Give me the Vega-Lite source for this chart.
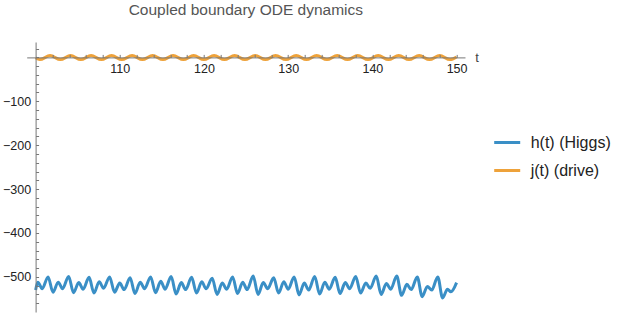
{
  "$schema": "https://vega.github.io/schema/vega-lite/v6.json",
  "autosize": {"type": "none"},
  "padding": {"left": 26.7, "top": 42, "right": 158, "bottom": 2},
  "width": 438.3,
  "height": 270,
  "background": "white",
  "config": {
    "view": {"stroke": null},
    "font": "Liberation Sans"
  },
  "title": {
    "text": "Coupled boundary ODE dynamics",
    "fontSize": 15.5,
    "fontWeight": "normal",
    "color": "#555555",
    "font": "Liberation Sans",
    "anchor": "middle",
    "baseline": "alphabetic",
    "offset": 12
  },
  "datasets": {
    "h": [
      {"t": 100.00, "v": -530}, {"t": 100.26, "v": -512}, {"t": 100.78, "v": -527},
      {"t": 101.48, "v": -500}, {"t": 102.06, "v": -535}, {"t": 102.68, "v": -512}, {"t": 103.20, "v": -527},
      {"t": 103.92, "v": -499}, {"t": 104.50, "v": -536}, {"t": 105.12, "v": -513}, {"t": 105.64, "v": -528},
      {"t": 106.35, "v": -501}, {"t": 106.93, "v": -537}, {"t": 107.55, "v": -511}, {"t": 108.07, "v": -526},
      {"t": 108.79, "v": -500}, {"t": 109.37, "v": -535}, {"t": 109.99, "v": -514}, {"t": 110.51, "v": -529},
      {"t": 111.22, "v": -502}, {"t": 111.80, "v": -538}, {"t": 112.42, "v": -512}, {"t": 112.94, "v": -527},
      {"t": 113.66, "v": -500}, {"t": 114.24, "v": -536}, {"t": 114.86, "v": -510}, {"t": 115.38, "v": -528},
      {"t": 116.10, "v": -499}, {"t": 116.68, "v": -539}, {"t": 117.30, "v": -513}, {"t": 117.82, "v": -529},
      {"t": 118.53, "v": -501}, {"t": 119.11, "v": -537}, {"t": 119.73, "v": -511}, {"t": 120.25, "v": -527},
      {"t": 120.97, "v": -503}, {"t": 121.55, "v": -540}, {"t": 122.17, "v": -514}, {"t": 122.69, "v": -528},
      {"t": 123.40, "v": -500}, {"t": 123.98, "v": -538}, {"t": 124.60, "v": -512}, {"t": 125.12, "v": -529},
      {"t": 125.84, "v": -498}, {"t": 126.42, "v": -540}, {"t": 127.04, "v": -513}, {"t": 127.56, "v": -527},
      {"t": 128.28, "v": -502}, {"t": 128.86, "v": -537}, {"t": 129.48, "v": -511}, {"t": 130.00, "v": -528},
      {"t": 130.71, "v": -500}, {"t": 131.29, "v": -541}, {"t": 131.91, "v": -514}, {"t": 132.43, "v": -530},
      {"t": 133.15, "v": -499}, {"t": 133.73, "v": -539}, {"t": 134.35, "v": -512}, {"t": 134.87, "v": -528},
      {"t": 135.58, "v": -501}, {"t": 136.16, "v": -538}, {"t": 136.78, "v": -513}, {"t": 137.30, "v": -527},
      {"t": 138.02, "v": -499}, {"t": 138.60, "v": -537}, {"t": 139.22, "v": -514}, {"t": 139.74, "v": -526},
      {"t": 140.46, "v": -498}, {"t": 141.04, "v": -540}, {"t": 141.66, "v": -515}, {"t": 142.18, "v": -528},
      {"t": 142.89, "v": -498}, {"t": 143.47, "v": -542}, {"t": 144.09, "v": -517}, {"t": 144.61, "v": -529},
      {"t": 145.33, "v": -500}, {"t": 145.91, "v": -545}, {"t": 146.53, "v": -522}, {"t": 147.05, "v": -530},
      {"t": 147.76, "v": -500}, {"t": 148.34, "v": -548}, {"t": 148.92, "v": -528}, {"t": 149.32, "v": -534},
      {"t": 150.00, "v": -513}
    ],
    "j": [
      {"t": 100.00, "v": -1},
      {"t": 100.50, "v": -5}, {"t": 101.72, "v": 4},
      {"t": 102.94, "v": -5}, {"t": 104.15, "v": 4},
      {"t": 105.37, "v": -5}, {"t": 106.59, "v": 4},
      {"t": 107.81, "v": -5}, {"t": 109.02, "v": 4},
      {"t": 110.24, "v": -5}, {"t": 111.46, "v": 4},
      {"t": 112.68, "v": -5}, {"t": 113.90, "v": 4},
      {"t": 115.12, "v": -5}, {"t": 116.33, "v": 4},
      {"t": 117.55, "v": -5}, {"t": 118.77, "v": 4},
      {"t": 119.99, "v": -5}, {"t": 121.20, "v": 4},
      {"t": 122.42, "v": -5}, {"t": 123.64, "v": 4},
      {"t": 124.86, "v": -5}, {"t": 126.08, "v": 4},
      {"t": 127.30, "v": -5}, {"t": 128.51, "v": 4},
      {"t": 129.73, "v": -5}, {"t": 130.95, "v": 4},
      {"t": 132.17, "v": -5}, {"t": 133.38, "v": 4},
      {"t": 134.60, "v": -5}, {"t": 135.82, "v": 4},
      {"t": 137.04, "v": -5}, {"t": 138.26, "v": 4},
      {"t": 139.48, "v": -5}, {"t": 140.69, "v": 4},
      {"t": 141.91, "v": -5}, {"t": 143.13, "v": 4},
      {"t": 144.35, "v": -5}, {"t": 145.56, "v": 4},
      {"t": 146.78, "v": -5}, {"t": 148.00, "v": 4},
      {"t": 149.22, "v": -5}, {"t": 150.00, "v": 1}
    ]
  },
  "encoding": {
    "x": {
      "field": "t", "type": "quantitative",
      "scale": {"domain": [98.94, 151], "nice": false, "zero": false},
      "axis": {
        "orient": "bottom",
        "offset": -254.6,
        "values": [102,104,106,108,110,112,114,116,118,120,122,124,126,128,130,132,134,136,138,140,142,144,146,148,150],
        "labelExpr": "datum.value % 10 === 0 ? datum.label : ''",
        "labelOverlap": false,
        "labelFlush": false,
        "tickSize": -3,
        "labelPadding": 8,
        "labelFontSize": 12.5,
        "labelFont": "Liberation Sans",
        "labelColor": "#222222",
        "domainColor": "#777777",
        "tickColor": "#777777",
        "grid": false,
        "zindex": 1,
        "title": "t",
        "titleX": 448,
        "titleY": 0,
        "titleAlign": "left",
        "titleBaseline": "middle",
        "titleAngle": 0,
        "titleFontSize": 13,
        "titleFontWeight": "normal",
        "titleFont": "Liberation Sans",
        "titleColor": "#444444"
      }
    },
    "y": {
      "field": "v", "type": "quantitative",
      "scale": {"domain": [-580, 35], "nice": false, "zero": false},
      "axis": {
        "orient": "left",
        "offset": -8.9,
        "values": [-560,-540,-520,-500,-480,-460,-440,-420,-400,-380,-360,-340,-320,-300,-280,-260,-240,-220,-200,-180,-160,-140,-120,-100,-80,-60,-40,-20,0,20],
        "labelExpr": "datum.value % 100 === 0 && datum.value !== 0 ? datum.label : ''",
        "labelOverlap": false,
        "labelFlush": false,
        "tickSize": -3,
        "labelPadding": 8,
        "labelFontSize": 12.5,
        "labelFont": "Liberation Sans",
        "labelColor": "#222222",
        "domainColor": "#777777",
        "tickColor": "#777777",
        "grid": false,
        "zindex": 1,
        "title": null
      }
    },
    "color": {
      "field": "s", "type": "nominal",
      "scale": {"domain": ["h(t) (Higgs)", "j(t) (drive)"], "range": ["#3a8fc6", "#eea23a"]},
      "legend": {
        "orient": "none",
        "legendX": 466,
        "legendY": 86,
        "title": null,
        "symbolType": "stroke",
        "symbolSize": 676,
        "symbolStrokeWidth": 3,
        "labelFontSize": 16,
        "labelFont": "Liberation Sans",
        "labelColor": "#222222",
        "labelOffset": 9,
        "rowPadding": 5,
        "padding": 0
      }
    }
  },
  "layer": [
    {
      "data": {"name": "h"},
      "transform": [{"calculate": "'h(t) (Higgs)'", "as": "s"}],
      "mark": {"type": "line", "strokeWidth": 3, "interpolate": "monotone"}
    },
    {
      "data": {"name": "j"},
      "transform": [{"calculate": "'j(t) (drive)'", "as": "s"}],
      "mark": {"type": "line", "strokeWidth": 3, "interpolate": "monotone"}
    }
  ]
}
